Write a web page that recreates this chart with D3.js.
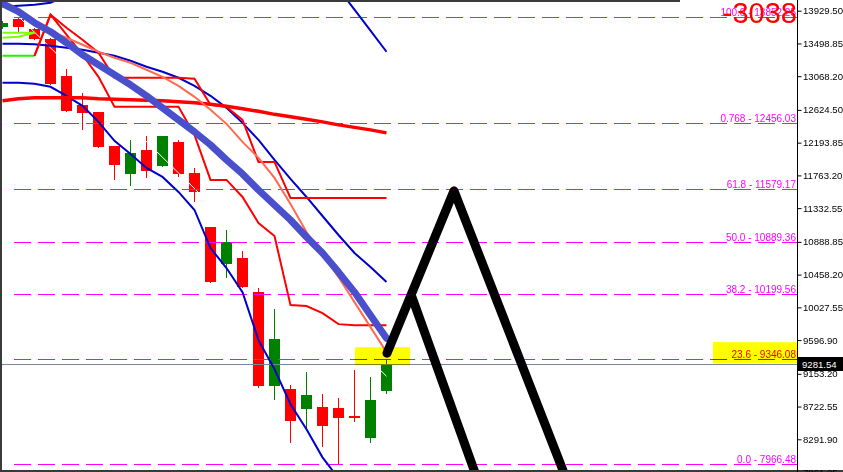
<!DOCTYPE html>
<html><head><meta charset="utf-8">
<script src="https://cdn.jsdelivr.net/npm/d3@7/dist/d3.min.js"></script>
<style>html,body{margin:0;padding:0;background:#fff;overflow:hidden}svg{display:block}</style>
</head><body><svg id="c" width="843" height="472"></svg>
<script>
// ---- candle data (index 0..24) ----
const open  = [13718.7,13824.1,13692.4,13560.7,13073.3,12691.3,12599.1,12151.3,11782.5,12098.6,11887.8,12203.9,11795.6,11084.4,10596.9,10675.9,10228.1,8990.0,8950.5,8687.0,8713.4,8700.2,8594.8,8305.0,8924.2];
const high  = [13797.8,13852.25,13705.6,13573.9,13165.5,12849.4,12599.1,12151.3,12230.3,12283.0,12283.0,12230.3,11861.5,11084.4,11044.8,10768.0,10280.8,10004.2,9003.2,9174.4,8884.6,8831.9,9200.8,9108.6,9332.4];
const low   = [13692.4,13652.9,13547.5,12954.7,12599.1,12362.0,12124.9,11703.4,11624.4,11729.8,11874.7,11743.0,11413.7,10346.7,10412.5,10280.8,8963.7,8805.6,8239.2,8423.6,8186.5,7966.48,8515.8,8239.2,8884.6];
const close = [13771.4,13718.7,13560.7,12967.9,12612.3,12586.0,12138.1,11901.0,12059.1,11822.0,12283.0,11782.5,11545.4,10359.8,10886.8,10294.0,8990.0,9609.0,8529.0,8871.4,8463.1,8568.5,8568.5,8805.6,9281.54];

// ---- indicator series ----
const maThick  = [14021.7,13916.3,13771.4,13652.9,13508.0,13349.9,13218.2,13086.5,12954.8,12809.9,12651.8,12493.7,12335.7,12164.4,11966.8,11782.5,11571.7,11374.1,11176.5,10952.6,10741.9,10491.6,10228.1,9925.2,9620.0];
const maSalmon = [null,null,13758.3,13652.9,13573.9,13481.7,13389.4,13310.4,13244.6,13152.4,13060.2,12941.6,12796.7,12625.5,12441.1,12204.0,11993.2,11729.8,11387.3,11018.5,10728.7,10425.7,10096.4,9767.2,9437.9];
const bandMid  = [13494.8,13494.8,13488.2,13468.5,13442.1,13415.8,13376.3,13336.8,13270.9,13191.9,13126.0,13047.0,12941.6,12809.9,12651.8,12454.2,12230.3,11966.8,11716.6,11479.5,11229.2,10979.0,10741.9,10557.5,10359.8];
const bandUp   = [13982.2,13995.4,14008.5,14034.9,14127.1,null,null,null,null,null,null,null,null,null,null,null,null,null,null,null,null,14219.3,13942.7,13666.1,13389.4];
const bandLow  = [12981.1,12981.1,12967.9,12928.4,12809.9,12678.2,12467.4,12217.1,12045.9,11861.5,11743.0,11545.4,11308.3,10807.7,10544.3,10228.1,9595.9,9213.9,8752.9,8423.6,8054.8,7778.2,null,null,null];
const maRed    = [12744.0,12770.4,12783.5,12783.5,12783.5,12783.5,12770.4,12763.8,12757.2,12750.6,12744.0,12730.8,12717.7,12697.9,12671.6,12638.6,12605.7,12566.2,12533.3,12500.4,12467.4,12427.9,12395.0,12362.0,12322.5];
const chanUp   = [null,null,13336.8,13876.8,13705.6,13547.5,13376.3,13047.0,13047.0,13047.0,13047.0,13047.0,13033.8,12691.3,12665.0,12493.7,11940.5,11940.5,11466.3,11466.3,11466.3,11466.3,11466.3,11466.3,11466.3];
const chanLow  = [null,null,13336.8,13876.8,13613.4,13349.9,13060.2,12665.0,12665.0,12665.0,12665.0,12665.0,12296.2,11703.4,11703.4,11479.5,11137.0,10965.8,10057.0,10043.8,9951.6,9806.7,9793.5,9793.5,9793.5];
const lime1    = [13639.7,13639.7,13639.7];
const lime2    = [13573.9,13587.0,13639.7];
const greenLn  = [13336.8,13336.8,13336.8];

// ---- fibonacci object ----
const fibRatios = ["100.0","0.768","61.8","50.0","38.2","23.6","0.0"];
const fibPrices = [13852.25,12456.03,11579.17,10889.36,10199.56,9346.08,7966.48];
const fibStart = 1;
const fibTrend = [[1,13852.25],[24,9121.7]];

// ---- drawn objects ----
const zig1 = [[24.03,9424.7],[28.22,11560],[35.03,7883.5]];
const zig2 = [[25.59,10162.3],[29.59,7817.6]];
const highlights = [[22.03,25.47,9266.6,9503.7],[44.4,49.66,9292.9,9569.6]];
const bidPrice = 9281.54;
const bigLabel = "-3038";

// ---- axis ticks ----
const tickValues = [13929.50,13498.85,13068.20,12624.50,12193.85,11763.20,11332.55,10888.85,10458.20,10027.55,9596.90,9153.20,8722.55,8291.90,7861.25];

// ================= drawing =================
const W=843,H=472, plotR=797, plotB=470;
const svg=d3.select('#c');
const x=d3.scaleLinear().domain([0,24]).range([2.5,386.5]);
const y=d3.scaleLinear().domain([8291.9,13929.5]).range([439.3,10.7]);
const font="'Liberation Sans', Arial, sans-serif";

svg.append('rect').attr('width',W).attr('height',H).attr('fill','#fff');
svg.append('defs').append('clipPath').attr('id','clip').append('rect')
  .attr('x',0).attr('y',0).attr('width',plotR).attr('height',plotB);
const g=svg.append('g').attr('clip-path','url(#clip)');

// candles
const idx=d3.range(open.length);
const col=i=>close[i]>=open[i]?'#008000':'#ff0000';
g.append('g').attr('shape-rendering','crispEdges').selectAll('line').data(idx).join('line')
  .attr('x1',i=>x(i)).attr('x2',i=>x(i))
  .attr('y1',i=>y(high[i])).attr('y2',i=>y(low[i]))
  .attr('stroke',col).attr('stroke-width',1);
g.append('g').attr('shape-rendering','crispEdges').selectAll('rect').data(idx).join('rect')
  .attr('x',i=>x(i)-5.5).attr('width',11)
  .attr('y',i=>y(Math.max(open[i],close[i])))
  .attr('height',i=>Math.max(1.5,y(Math.min(open[i],close[i]))-y(Math.max(open[i],close[i]))))
  .attr('fill',col);

// fib trendline (white)
const ptLine=d3.line().x(d=>x(d[0])).y(d=>y(d[1]));
g.append('path').attr('d',ptLine(fibTrend)).attr('fill','none').attr('stroke','#fff').attr('stroke-width',1);

// fib levels
const fg=g.append('g').attr('shape-rendering','crispEdges');
fibPrices.forEach((p,k)=>{
  const yy=Math.round(y(p))+0.5;
  fg.append('line').attr('x1',x(fibStart)-5).attr('x2',plotR).attr('y1',yy).attr('y2',yy)
    .attr('stroke','#ff00ff').attr('stroke-width',1).attr('stroke-dasharray','17,7');
});

// bid line
g.append('line').attr('shape-rendering','crispEdges').attr('x1',0).attr('x2',plotR)
  .attr('y1',Math.round(y(bidPrice))+0.5).attr('y2',Math.round(y(bidPrice))+0.5)
  .attr('stroke','#778899').attr('stroke-width',1);

// indicators
const ser=d3.line().defined(d=>d!=null).x((d,i)=>x(i)).y(d=>y(d));
function drawSeries(arr,color,w,opts={}){
  g.append('path').attr('d',ser(arr)).attr('fill','none').attr('stroke',color)
   .attr('stroke-width',w).attr('stroke-linejoin',opts.join||'miter').attr('stroke-linecap',opts.cap||'butt');
}
drawSeries(lime1,'#80ff00',2);
drawSeries(lime2,'#80ff00',2);
drawSeries(greenLn,'#22ee00',2);
drawSeries(bandUp,'#0000cc',2);
drawSeries(bandMid,'#0000cc',2);
drawSeries(bandLow,'#0000cc',2);
drawSeries(maRed,'#ff0000',3.5);
drawSeries(chanUp,'#ff0000',2);
drawSeries(chanLow,'#ff0000',2);
drawSeries(maSalmon,'#ff6a50',2);
drawSeries(maThick,'#4a4fcc',7,{join:'round',cap:'round'});

// zigzag
[zig1,zig2].forEach(z=>{
  g.append('path').attr('d',ptLine(z)).attr('fill','none').attr('stroke','#000')
   .attr('stroke-width',9).attr('stroke-linecap','round').attr('stroke-linejoin','round');
});

// fib labels
fibPrices.forEach((p,k)=>{
  svg.append('text').attr('x',plotR-1).attr('y',Math.round(y(p))-1.5)
    .attr('text-anchor','end').attr('font-family',font).attr('font-size',10)
    .attr('fill','#ff00ff').text(fibRatios[k]+' - '+p.toFixed(2));
});

// highlighter (multiply blend)
svg.append('g').selectAll('rect').data(highlights).join('rect')
  .attr('x',d=>x(d[0])).attr('width',d=>x(d[1])-x(d[0]))
  .attr('y',d=>y(d[3])).attr('height',d=>y(d[2])-y(d[3]))
  .attr('fill','#ffff00').style('mix-blend-mode','multiply');

// big label
svg.append('text').attr('x',plotR).attr('y',23).attr('text-anchor','end')
  .attr('font-family',font).attr('font-size',29).attr('fill','#ff0000').text(bigLabel);

// borders
svg.append('rect').attr('x',0).attr('y',0).attr('width',680).attr('height',2).attr('fill','#3a3a3a');
svg.append('rect').attr('x',0).attr('y',0).attr('width',2).attr('height',H).attr('fill','#3a3a3a');
svg.append('rect').attr('x',0).attr('y',plotB).attr('width',W).attr('height',2).attr('fill','#3a3a3a');

// axis
const axis=d3.axisRight(y).tickValues(tickValues).tickFormat(d3.format('.2f')).tickSize(4).tickPadding(1.5);
const ag=svg.append('g').attr('transform',`translate(${plotR+0.5},0)`).call(axis);
ag.select('.domain').remove();
ag.selectAll('.tick line').attr('stroke','#000');
ag.selectAll('.tick text').attr('font-family',font).attr('font-size',9.6).attr('fill','#000');
svg.append('line').attr('x1',plotR+0.5).attr('x2',plotR+0.5).attr('y1',0).attr('y2',H).attr('stroke','#000').attr('stroke-width',1);

// bid label
const by=Math.round(y(bidPrice));
svg.append('rect').attr('x',plotR+1).attr('y',by-7).attr('width',W-plotR-1).attr('height',14).attr('fill','#000');
svg.append('text').attr('x',plotR+5).attr('y',by+4).attr('font-family',font).attr('font-size',9.6)
  .attr('fill','#fff').text(bidPrice.toFixed(2));
</script></body></html>
